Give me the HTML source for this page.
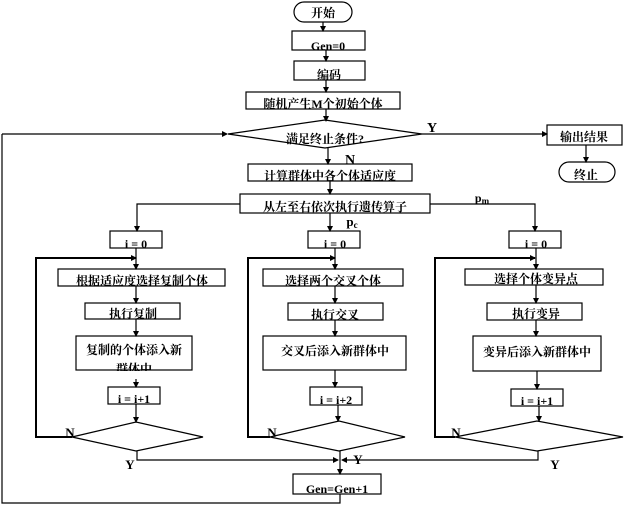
<!DOCTYPE html>
<html><head><meta charset="utf-8"><style>
html,body{margin:0;padding:0;background:#fff;}
svg{display:block;}
text{font-family:"Liberation Serif","Noto Serif CJK SC","Noto Sans CJK SC",serif;font-weight:bold;font-size:12px;fill:#000;text-anchor:middle;}
</style></head><body>
<svg width="626" height="507" viewBox="0 0 626 507" xmlns="http://www.w3.org/2000/svg">
<defs><marker id="a" markerWidth="6" markerHeight="6" refX="5" refY="3" orient="auto" markerUnits="userSpaceOnUse"><path d="M0,0 L6,3 L0,6 z" fill="#000"/></marker></defs>
<g fill="none" stroke="#000" stroke-width="1.2">
<rect x="294" y="2" width="58" height="20" rx="10"/>
<rect x="292" y="31" width="73" height="19"/>
<rect x="294" y="61" width="71" height="19"/>
<rect x="246" y="92" width="154" height="17"/>
<polygon points="228,134 325,120 422,134 325,148"/>
<rect x="547" y="125" width="75" height="20"/>
<rect x="559" y="162" width="56" height="20" rx="10"/>
<rect x="248" y="164" width="164" height="17"/>
<rect x="240" y="194" width="190" height="19"/>
<rect x="110" y="231" width="52" height="17"/>
<rect x="308" y="231" width="52" height="17"/>
<rect x="509" y="231" width="52" height="17"/>
<rect x="58" y="269" width="167" height="17"/>
<rect x="85" y="303" width="95" height="16"/>
<rect x="76" y="336" width="116" height="34"/>
<rect x="108" y="387" width="52" height="17"/>
<polygon points="72,437 136,422 203,437 136,451"/>
<rect x="263" y="269" width="140" height="17"/>
<rect x="288" y="303" width="95" height="17"/>
<rect x="263" y="336" width="143" height="34"/>
<rect x="310" y="387" width="52" height="18"/>
<polygon points="270,437 339,421 405,437 339,451"/>
<rect x="465" y="269" width="138" height="16"/>
<rect x="487" y="303" width="95" height="17"/>
<rect x="473" y="336" width="128" height="35"/>
<rect x="511" y="389" width="52" height="17"/>
<polygon points="455,437 537,421 623,437 537,451"/>
<rect x="293" y="474" width="88" height="20"/>
</g>
<g fill="none" stroke="#000" stroke-width="1.2">
<line x1="323" y1="22" x2="323" y2="31" marker-end="url(#a)"/>
<line x1="326" y1="50" x2="326" y2="61" marker-end="url(#a)"/>
<line x1="326" y1="80" x2="326" y2="92" marker-end="url(#a)"/>
<line x1="326" y1="109" x2="326" y2="121" marker-end="url(#a)"/>
<line x1="422" y1="134" x2="547" y2="134" marker-end="url(#a)"/>
<line x1="586" y1="145" x2="586" y2="162" marker-end="url(#a)"/>
<line x1="328" y1="148" x2="328" y2="164" marker-end="url(#a)"/>
<line x1="330" y1="181" x2="330" y2="194" marker-end="url(#a)"/>
<polyline points="2,134 2,503 340,503 340,494"/>
<line x1="2" y1="134" x2="227" y2="134" marker-end="url(#a)"/>
<polyline points="240,204 137,204 137,231" marker-end="url(#a)"/>
<line x1="330" y1="213" x2="330" y2="231" marker-end="url(#a)"/>
<polyline points="430,204 535,204 535,231" marker-end="url(#a)"/>
<line x1="136" y1="248" x2="136" y2="269" marker-end="url(#a)"/>
<line x1="136" y1="286" x2="136" y2="303" marker-end="url(#a)"/>
<line x1="136" y1="319" x2="136" y2="336" marker-end="url(#a)"/>
<line x1="136" y1="370" x2="136" y2="387" marker-end="url(#a)"/>
<line x1="136" y1="404" x2="136" y2="422" marker-end="url(#a)"/>
<polyline points="72,437 36,437 36,258 136,258" stroke-width="2" marker-end="url(#a)"/>
<polyline points="137,451 137,460 338,460" marker-end="url(#a)"/>
<line x1="335" y1="248" x2="335" y2="269" marker-end="url(#a)"/>
<line x1="335" y1="286" x2="335" y2="303" marker-end="url(#a)"/>
<line x1="335" y1="320" x2="335" y2="336" marker-end="url(#a)"/>
<line x1="335" y1="370" x2="335" y2="387" marker-end="url(#a)"/>
<line x1="338" y1="405" x2="338" y2="421" marker-end="url(#a)"/>
<polyline points="270,437 248,437 248,258 335,258" stroke-width="2" marker-end="url(#a)"/>
<line x1="340" y1="451" x2="340" y2="474" marker-end="url(#a)"/>
<line x1="536" y1="248" x2="536" y2="269" marker-end="url(#a)"/>
<line x1="536" y1="285" x2="536" y2="303" marker-end="url(#a)"/>
<line x1="536" y1="320" x2="536" y2="336" marker-end="url(#a)"/>
<line x1="537" y1="371" x2="537" y2="389" marker-end="url(#a)"/>
<line x1="539" y1="406" x2="539" y2="421" marker-end="url(#a)"/>
<polyline points="455,437 435,437 435,258 535,258" stroke-width="2" marker-end="url(#a)"/>
<polyline points="538,451 538,460 342,460" marker-end="url(#a)"/>
</g>
<text x="323" y="17">开始</text>
<text x="328" y="50">Gen=0</text>
<text x="329" y="79">编码</text>
<text x="323" y="108">随机产生M个初始个体</text>
<text x="325" y="143">满足终止条件?</text>
<text x="432" y="132" style="font-size:14px">Y</text>
<text x="584" y="141">输出结果</text>
<text x="586" y="179">终止</text>
<text x="350" y="164" style="font-size:14px">N</text>
<text x="330" y="180">计算群体中各个体适应度</text>
<text x="335" y="211">从左至右依次执行遗传算子</text>
<text x="482" y="202">p<tspan style="font-size:9px" dy="2">m</tspan></text>
<text x="352" y="226" style="font-size:13px">p<tspan style="font-size:9px" dy="2">c</tspan></text>
<text x="136" y="248">i = 0</text>
<text x="335" y="248">i = 0</text>
<text x="536" y="248">i = 0</text>
<text x="142" y="285">根据适应度选择复制个体</text>
<text x="133" y="318">执行复制</text>
<text x="134" y="354">复制的个体添入新</text>
<text x="134" y="373">群体中</text>
<rect x="77" y="371" width="118" height="8" fill="#fff"/>
<text x="134" y="403">i = i+1</text>
<text x="333" y="285">选择两个交叉个体</text>
<text x="335" y="319">执行交叉</text>
<text x="335" y="355">交叉后添入新群体中</text>
<text x="336" y="404">i = i+2</text>
<text x="536" y="283">选择个体变异点</text>
<text x="536" y="318">执行变异</text>
<text x="537" y="356">变异后添入新群体中</text>
<text x="537" y="405">i = i+1</text>
<text x="70" y="437" style="font-size:13px">N</text>
<text x="272" y="437" style="font-size:13px">N</text>
<text x="456" y="437" style="font-size:13px">N</text>
<text x="130" y="469" style="font-size:13px">Y</text>
<text x="358" y="464" style="font-size:13px">Y</text>
<text x="555" y="469" style="font-size:13px">Y</text>
<text x="337" y="493">Gen=Gen+1</text>
</svg>
</body></html>
